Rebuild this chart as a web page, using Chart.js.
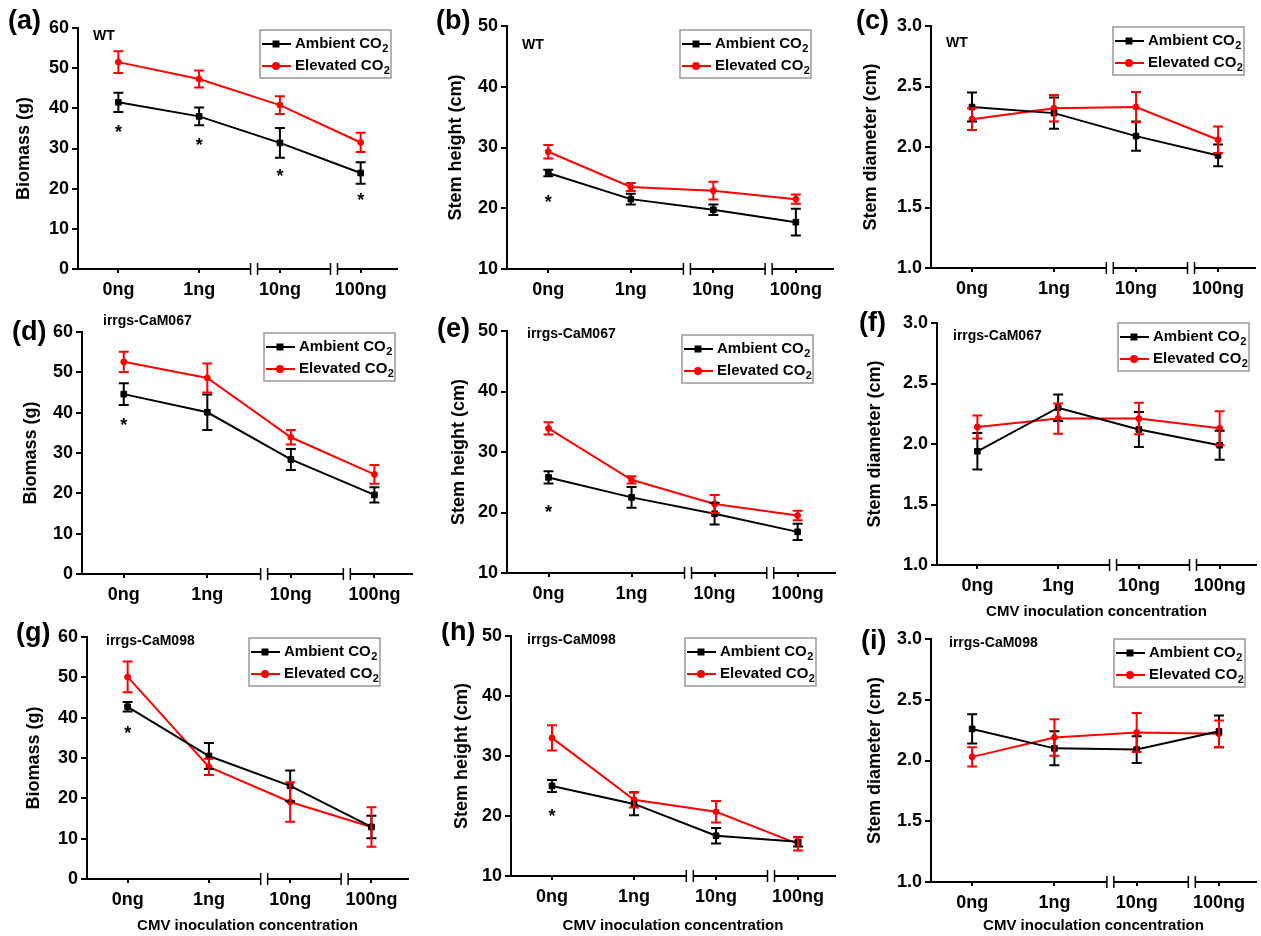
<!DOCTYPE html>
<html>
<head>
<meta charset="utf-8">
<script src="https://cdn.jsdelivr.net/npm/chart.js@4.4.0/dist/chart.umd.min.js"></script>
<style>
  body { margin: 0; background: #fff; }
  #fig { position: relative; width: 1261px; height: 936px; }
  .cell { position: absolute; }
</style>
</head>
<body>
<div id="fig"></div>
<script>
// ---- data ----
const categories = ['0ng', '1ng', '10ng', '100ng'];
const axisBreaks = [1.68, 2.67];   // break marks on the x axis, in category units

// (a) WT biomass
const aAmbient = [41.5, 38.0, 31.4, 23.9];
const aAmbientErr = [2.4, 2.2, 3.7, 2.7];
const aElevated = [51.5, 47.3, 40.8, 31.5];
const aElevatedErr = [2.7, 2.1, 2.2, 2.4];
const aStars = [35.1, 31.8, 24.1, 18.1];
// (b) WT stem height
const bAmbient = [25.8, 21.5, 19.75, 17.7];
const bAmbientErr = [0.55, 0.9, 0.85, 2.2];
const bElevated = [29.3, 23.5, 22.9, 21.5];
const bElevatedErr = [1.1, 0.65, 1.45, 0.75];
const bStars = [21.7, null, null, null];
// (c) WT stem diameter
const cAmbient = [2.33, 2.28, 2.09, 1.93];
const cAmbientErr = [0.12, 0.13, 0.12, 0.09];
const cElevated = [2.23, 2.32, 2.33, 2.06];
const cElevatedErr = [0.09, 0.11, 0.125, 0.11];
const cStars = [null, null, null, null];
// (d) irrgs-CaM067 biomass
const dAmbient = [44.6, 40.1, 28.4, 19.6];
const dAmbientErr = [2.7, 4.4, 2.6, 1.9];
const dElevated = [52.6, 48.6, 33.9, 24.7];
const dElevatedErr = [2.5, 3.6, 1.8, 2.3];
const dStars = [37.9, null, null, null];
// (e) irrgs-CaM067 stem height
const eAmbient = [25.8, 22.5, 19.8, 16.8];
const eAmbientErr = [1.0, 1.7, 1.8, 1.35];
const eElevated = [33.9, 25.4, 21.4, 19.5];
const eElevatedErr = [1.0, 0.6, 1.5, 0.8];
const eStars = [20.8, null, null, null];
// (f) irrgs-CaM067 stem diameter
const fAmbient = [1.94, 2.30, 2.12, 1.99];
const fAmbientErr = [0.15, 0.11, 0.145, 0.12];
const fElevated = [2.14, 2.21, 2.21, 2.13];
const fElevatedErr = [0.095, 0.125, 0.13, 0.14];
const fStars = [null, null, null, null];
// (g) irrgs-CaM098 biomass
const gAmbient = [42.7, 30.5, 23.1, 12.9];
const gAmbientErr = [1.2, 3.2, 3.8, 2.8];
const gElevated = [50.1, 27.8, 19.1, 12.9];
const gElevatedErr = [3.8, 2.0, 4.9, 4.9];
const gStars = [37.3, null, null, null];
// (h) irrgs-CaM098 stem height
const hAmbient = [25.0, 22.0, 16.7, 15.7];
const hAmbientErr = [1.0, 1.9, 1.3, 0.8];
const hElevated = [33.0, 22.7, 20.7, 15.35];
const hElevatedErr = [2.1, 1.3, 1.8, 1.1];
const hStars = [20.6, null, null, null];
// (i) irrgs-CaM098 stem diameter
const iAmbient = [2.26, 2.10, 2.09, 2.24];
const iAmbientErr = [0.12, 0.14, 0.11, 0.13];
const iElevated = [2.03, 2.19, 2.23, 2.22];
const iElevatedErr = [0.08, 0.15, 0.16, 0.11];
const iStars = [null, null, null, null];

const FONT = '"Liberation Sans", Arial, sans-serif';
Chart.defaults.font.family = FONT;
Chart.defaults.color = '#000';

// panel kinds: y axis title and range
const kinds = {
  mass: { title: 'Biomass (g)', min: 0, max: 60, step: 10, fmt: v => v },
  height: { title: 'Stem height (cm)', min: 10, max: 50, step: 10, fmt: v => v },
  diam: { title: 'Stem diameter (cm)', min: 1, max: 3, step: 0.5, fmt: v => v.toFixed(1) }
};

const panels = [
  { tag: '(a)', strain: 'WT', kind: 'mass', amb: aAmbient, ambErr: aAmbientErr, ele: aElevated, eleErr: aElevatedErr, stars: aStars, xTitle: false,
    cell: [0, 0, 420, 300], box: [78, 28, 397, 269], yTitleX: 24, tagAt: [8, 22], strainAt: [93, 36], legendAt: [260, 30] },
  { tag: '(b)', strain: 'WT', kind: 'height', amb: bAmbient, ambErr: bAmbientErr, ele: bElevated, eleErr: bElevatedErr, stars: bStars, xTitle: false,
    cell: [420, 0, 840, 300], box: [507, 26, 833, 269], yTitleX: 456, tagAt: [436, 22], strainAt: [522, 45], legendAt: [680, 30] },
  { tag: '(c)', strain: 'WT', kind: 'diam', amb: cAmbient, ambErr: cAmbientErr, ele: cElevated, eleErr: cElevatedErr, stars: cStars, xTitle: false,
    cell: [840, 0, 1261, 300], box: [931, 26, 1255, 268], yTitleX: 871, tagAt: [856, 22], strainAt: [946, 43], legendAt: [1113, 27] },
  { tag: '(d)', strain: 'irrgs-CaM067', kind: 'mass', amb: dAmbient, ambErr: dAmbientErr, ele: dElevated, eleErr: dElevatedErr, stars: dStars, xTitle: false,
    cell: [0, 300, 420, 622], box: [82, 332, 412, 574], yTitleX: 31, tagAt: [12, 333], strainAt: [103, 321], legendAt: [264, 333] },
  { tag: '(e)', strain: 'irrgs-CaM067', kind: 'height', amb: eAmbient, ambErr: eAmbientErr, ele: eElevated, eleErr: eElevatedErr, stars: eStars, xTitle: false,
    cell: [420, 300, 840, 622], box: [507, 331, 835, 573], yTitleX: 459, tagAt: [437, 330], strainAt: [527, 334], legendAt: [682, 335] },
  { tag: '(f)', strain: 'irrgs-CaM067', kind: 'diam', amb: fAmbient, ambErr: fAmbientErr, ele: fElevated, eleErr: fElevatedErr, stars: fStars, xTitle: true,
    cell: [840, 300, 1261, 622], box: [937, 323, 1258, 565], yTitleX: 875, tagAt: [859, 324], strainAt: [953, 336], legendAt: [1118, 323] },
  { tag: '(g)', strain: 'irrgs-CaM098', kind: 'mass', amb: gAmbient, ambErr: gAmbientErr, ele: gElevated, eleErr: gElevatedErr, stars: gStars, xTitle: true,
    cell: [0, 622, 420, 936], box: [87, 637, 408, 879], yTitleX: 34, tagAt: [16, 634], strainAt: [106, 641], legendAt: [249, 638] },
  { tag: '(h)', strain: 'irrgs-CaM098', kind: 'height', amb: hAmbient, ambErr: hAmbientErr, ele: hElevated, eleErr: hElevatedErr, stars: hStars, xTitle: true,
    cell: [420, 622, 840, 936], box: [511, 634, 838, 876], yTitleX: 462, tagAt: [441, 633], strainAt: [527, 640], legendAt: [685, 638] },
  { tag: '(i)', strain: 'irrgs-CaM098', kind: 'diam', amb: iAmbient, ambErr: iAmbientErr, ele: iElevated, eleErr: iElevatedErr, stars: iStars, xTitle: true,
    cell: [840, 622, 1261, 936], box: [931, 639, 1258, 882], yTitleX: 875, tagAt: [861, 642], strainAt: [949, 643], legendAt: [1114, 639] }
];

// text with a subscript "2" after it
function subText(ctx, x, y, main, sub) {
  ctx.font = 'bold 15px ' + FONT;
  ctx.textAlign = 'left';
  ctx.textBaseline = 'middle';
  ctx.fillText(main, x, y);
  const w = ctx.measureText(main).width;
  ctx.font = 'bold 11px ' + FONT;
  ctx.fillText(sub, x + w + 0.5, y + 5);
}

// error bars, stars, axis breaks, legend and panel texts
const decor = {
  id: 'decor',
  afterDatasetsDraw(chart) {
    const ctx = chart.ctx, xs = chart.scales.x, ys = chart.scales.y;
    ctx.save();
    chart.data.datasets.forEach(ds => {
      ctx.strokeStyle = ds.borderColor;
      ctx.lineWidth = 2;
      ds.data.forEach((p, i) => {
        const e = ds.errors[i];
        const px = xs.getPixelForValue(p.x);
        const y1 = ys.getPixelForValue(p.y + e), y2 = ys.getPixelForValue(p.y - e);
        ctx.beginPath();
        ctx.moveTo(px, y1); ctx.lineTo(px, y2);
        ctx.moveTo(px - 5, y1); ctx.lineTo(px + 5, y1);
        ctx.moveTo(px - 5, y2); ctx.lineTo(px + 5, y2);
        ctx.stroke();
      });
    });
    ctx.restore();
  },
  afterDraw(chart, args, o) {
    const ctx = chart.ctx, xs = chart.scales.x, ys = chart.scales.y;
    const area = chart.chartArea;
    ctx.save();
    // stars
    ctx.fillStyle = '#000';
    ctx.font = 'bold 18px ' + FONT;
    ctx.textAlign = 'center';
    ctx.textBaseline = 'alphabetic';
    o.stars.forEach((v, i) => {
      if (v === null) return;
      ctx.fillText('*', xs.getPixelForValue(i), ys.getPixelForValue(v) + 10);
    });
    // axis breaks
    axisBreaks.forEach(b => {
      const px = xs.getPixelForValue(b);
      ctx.fillStyle = '#fff';
      ctx.fillRect(px - 3.5, area.bottom - 2, 7, 4);
      ctx.strokeStyle = '#000';
      ctx.lineWidth = 1.5;
      ctx.beginPath();
      ctx.moveTo(px - 3.5, area.bottom - 6); ctx.lineTo(px - 3.5, area.bottom + 6);
      ctx.moveTo(px + 3.5, area.bottom - 6); ctx.lineTo(px + 3.5, area.bottom + 6);
      ctx.stroke();
    });
    // legend
    const [lx, ly] = o.legendAt;
    ctx.strokeStyle = '#999';
    ctx.lineWidth = 1.5;
    ctx.strokeRect(lx, ly, 131, 48);
    const rows = [
      { y: ly + 14, color: '#000', style: 'rect', text: 'Ambient CO' },
      { y: ly + 36, color: '#ff0000', style: 'circle', text: 'Elevated CO' }
    ];
    rows.forEach(r => {
      ctx.strokeStyle = r.color;
      ctx.fillStyle = r.color;
      ctx.lineWidth = 2;
      ctx.beginPath();
      ctx.moveTo(lx + 2, r.y); ctx.lineTo(lx + 31, r.y);
      ctx.stroke();
      Chart.helpers.drawPoint(ctx, { pointStyle: r.style, radius: r.style === 'rect' ? 3.5 : 3, rotation: 0, borderWidth: 1 }, lx + 16, r.y);
      ctx.fillStyle = '#000';
      subText(ctx, lx + 35, r.y, r.text, '2');
    });
    // panel tag and strain name
    ctx.fillStyle = '#000';
    ctx.textAlign = 'left';
    ctx.textBaseline = 'middle';
    ctx.font = 'bold 27px ' + FONT;
    ctx.fillText(o.tag, o.tagAt[0], o.tagAt[1]);
    ctx.font = 'bold 14px ' + FONT;
    ctx.fillText(o.strain, o.strainAt[0], o.strainAt[1]);
    ctx.restore();
  }
};

const fig = document.getElementById('fig');

panels.forEach(p => {
  const k = kinds[p.kind];
  const [cl, ct, cr, cb] = p.cell;
  const [bl, bt, br, bb] = p.box;
  const div = document.createElement('div');
  div.className = 'cell';
  div.style.left = cl + 'px';
  div.style.top = ct + 'px';
  div.style.width = (cr - cl) + 'px';
  div.style.height = (cb - ct) + 'px';
  const canvas = document.createElement('canvas');
  div.appendChild(canvas);
  fig.appendChild(div);

  const rel = ([x, y]) => [x - cl, y - ct];

  new Chart(canvas.getContext('2d'), {
    type: 'line',
    data: {
      datasets: [
        {
          label: 'Ambient CO2',
          data: p.amb.map((v, i) => ({ x: i, y: v })),
          errors: p.ambErr,
          borderColor: '#000',
          backgroundColor: '#000',
          borderWidth: 2,
          pointStyle: 'rect',
          pointRadius: 4,
          pointBorderWidth: 1,
          tension: 0
        },
        {
          label: 'Elevated CO2',
          data: p.ele.map((v, i) => ({ x: i, y: v })),
          errors: p.eleErr,
          borderColor: '#ff0000',
          backgroundColor: '#ff0000',
          borderWidth: 2,
          pointStyle: 'circle',
          pointRadius: 3,
          pointBorderWidth: 1,
          tension: 0
        }
      ]
    },
    options: {
      responsive: true,
      maintainAspectRatio: false,
      animation: false,
      layout: { padding: { top: bt - ct, right: cr - br, bottom: 0, left: 0 } },
      plugins: {
        legend: { display: false },
        tooltip: { enabled: false },
        decor: {
          stars: p.stars,
          legendAt: rel(p.legendAt),
          tag: p.tag,
          tagAt: rel(p.tagAt),
          strain: p.strain,
          strainAt: rel(p.strainAt)
        }
      },
      scales: {
        x: {
          type: 'linear',
          min: -0.5,
          max: 3.45,
          afterBuildTicks: s => { s.ticks = categories.map((c, i) => ({ value: i })); },
          afterFit: s => { s.height = cb - bb; },
          ticks: {
            callback: v => categories[v],
            font: { size: 18, weight: 'bold' },
            color: '#000',
            padding: 6,
            maxRotation: 0
          },
          grid: { display: true, drawOnChartArea: false, drawTicks: true, tickLength: 4, color: '#000', lineWidth: 2 },
          border: { display: true, color: '#000', width: 2 },
          title: {
            display: p.xTitle,
            text: 'CMV inoculation concentration',
            font: { size: 15, weight: 'bold' },
            color: '#000',
            padding: { top: 0, bottom: 1 }
          }
        },
        y: {
          min: k.min,
          max: k.max,
          afterFit: s => { s.width = bl - cl; },
          ticks: {
            stepSize: k.step,
            callback: k.fmt,
            font: { size: 18, weight: 'bold' },
            color: '#000',
            padding: 3
          },
          grid: { display: true, drawOnChartArea: false, drawTicks: true, tickLength: 6, color: '#000', lineWidth: 2 },
          border: { display: true, color: '#000', width: 2 },
          title: {
            display: true,
            text: k.title,
            font: { size: 18, weight: 'bold' },
            color: '#000',
            padding: { top: Math.max(0, p.yTitleX - cl - 10.8), bottom: 0 }
          }
        }
      }
    },
    plugins: [decor]
  });
});
</script>
</body>
</html>
